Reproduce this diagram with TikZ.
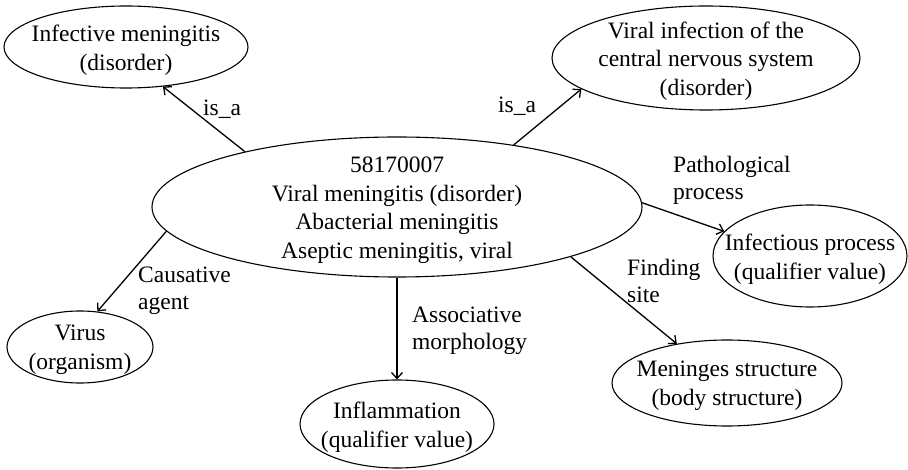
\documentclass[tikz,border=0pt]{standalone}
\usepackage{fontspec}
\setmainfont{Liberation Serif}
\usetikzlibrary{shapes.geometric,arrows.meta}
\begin{document}
\begin{tikzpicture}[x=1pt,y=-1pt,
  concept/.style={ellipse,draw,line width=1.1pt,inner sep=0pt},
  ctext/.style={align=center,inner sep=0pt,yshift=-3pt,
    font=\fontsize{23.5}{28.5}\selectfont},
  rel/.style={line width=1.3pt,-{Straight Barb[length=6pt,width=11pt]}},
  rlabel/.style={align=left,anchor=north west,inner sep=0pt,
    font=\fontsize{23.5}{27.5}\selectfont},
  islabel/.style={anchor=base west,inner sep=0pt,
    font=\fontsize{23.5}{27.5}\selectfont}]
\useasboundingbox (0,0) rectangle (908,470);

% concept ellipses
\node[concept,minimum width=490pt,minimum height=140pt] (c)    at (397,207) {};
\node[concept,minimum width=244pt,minimum height=82pt]  (inf)  at (126,47)  {};
\node[concept,minimum width=308pt,minimum height=104pt] (vir)  at (706,58)  {};
\node[concept,minimum width=194pt,minimum height=102pt] (ip)   at (810,256) {};
\node[concept,minimum width=146pt,minimum height=72pt]  (vrs)  at (80,347)  {};
\node[concept,minimum width=194pt,minimum height=88pt]  (infl) at (397,424) {};
\node[concept,minimum width=230pt,minimum height=86pt]  (men)  at (727,383) {};

% concept texts
\node[ctext] (ct)    at (c)    {58170007\\Viral meningitis (disorder)\\Abacterial meningitis\\Aseptic meningitis, viral};
\node[ctext] (inft)  at (inf)  {Infective meningitis\\(disorder)};
\node[ctext] (virt)  at (vir)  {Viral infection of the\\central nervous system\\(disorder)};
\node[ctext] (ipt)   at (ip)   {Infectious process\\(qualifier value)};
\node[ctext] (vrst)  at (vrs)  {Virus\\(organism)};
\node[ctext] (inflt) at (infl) {Inflammation\\(qualifier value)};
\node[ctext] (ment)  at (men)  {Meninges structure\\(body structure)};

% relationships
\draw[rel] (c.160.6) -- (inf.-47.9);
\draw[rel] (c.28.9)  -- (vir.-166.8);
\draw[rel] (c.1.65)  -- (ip.164.1);
\draw[rel] (c.186.5) -- (vrs.64.1);
\draw[rel] (c.south) -- (infl.north);
\draw[rel] (c.-16.4) -- (men.142.8);

% relationship labels
\node[islabel] (l1) at (203,116) {is\_a};
\node[islabel] (l2) at (498,113) {is\_a};
\node[rlabel] (l3) at (673,155.5) {Pathological\\process};
\node[rlabel] (l4) at (138,266.5) {Causative\\agent};
\node[rlabel] (l5) at (412,306.5) {Associative\\morphology};
\node[rlabel] (l6) at (627,258.5) {Finding\\site};
\end{tikzpicture}
\end{document}
